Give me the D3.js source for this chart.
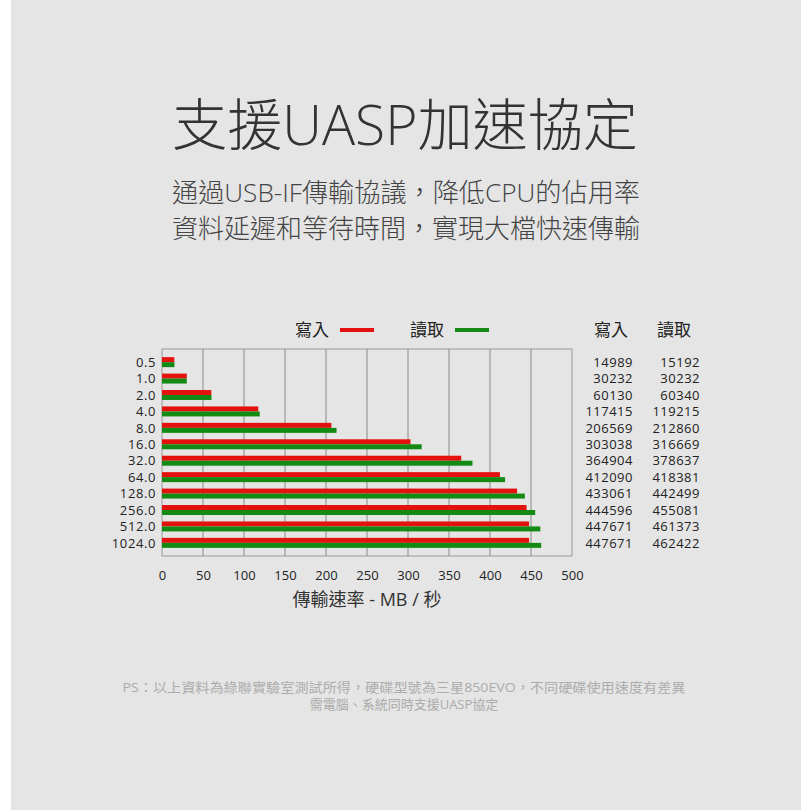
<!DOCTYPE html>
<html><head><meta charset="utf-8">
<script src="https://cdn.jsdelivr.net/npm/d3@7"></script>
<style>
html,body{margin:0;padding:0;background:#fff;}
svg{display:block;}
</style></head>
<body>
<svg id="chart" width="812" height="812"></svg>
<script>
const categories = ["0.5","1.0","2.0","4.0","8.0","16.0","32.0","64.0","128.0","256.0","512.0","1024.0"];
const writeKB = [14989,30232,60130,117415,206569,303038,364904,412090,433061,444596,447671,447671];
const readKB  = [15192,30232,60340,119215,212860,316669,378637,418381,442499,455081,461373,462422];
const xTicks = [0,50,100,150,200,250,300,350,400,450,500];
const seriesNames = ["寫入","讀取"];
const title = "支援UASP加速協定";
const subtitle = ["通過USB-IF傳輸協議，降低CPU的佔用率","資料延遲和等待時間，實現大檔快速傳輸"];
const axisTitle = "傳輸速率 - MB / 秒";
const footnote = ["PS：以上資料為綠聯實驗室測試所得，硬碟型號為三星850EVO，不同硬碟使用速度有差異","需電腦、系統同時支援UASP協定"];

const font = "'Open Sans','Noto Sans CJK TC','Noto Sans',sans-serif";
const RED = "#e3120f", GREEN = "#138a13";
const svg = d3.select("#chart");
svg.append("rect").attr("x",11).attr("y",0).attr("width",790).attr("height",810).attr("fill","#e5e5e5");

svg.append("text").attr("x",405).attr("y",145).attr("text-anchor","middle")
  .attr("font-family",font).attr("font-weight",300).attr("font-size",56).attr("fill","#333")
  .attr("textLength",466).attr("lengthAdjust","spacingAndGlyphs").text(title);
subtitle.forEach((s,i)=>svg.append("text").attr("x",406).attr("y",202+i*36).attr("text-anchor","middle")
  .attr("font-family",font).attr("font-weight",300).attr("font-size",26).attr("fill","#444")
  .attr("textLength",468).attr("lengthAdjust","spacingAndGlyphs").text(s));

const x = d3.scaleLinear().domain([0,500]).range([162,572]);
const y = d3.scaleBand().domain(categories).range([349,556]).paddingOuter(0.3).paddingInner(0);
const barH = 5;

const g = svg.append("g");
g.append("rect").attr("x",x(0)).attr("y",349).attr("width",x(500)-x(0)).attr("height",556-349)
  .attr("fill","none").attr("stroke","#9a9a9a").attr("stroke-width",1);
g.selectAll(".grid").data(xTicks.slice(1,-1)).join("line")
  .attr("x1",d=>x(d)).attr("x2",d=>x(d)).attr("y1",349).attr("y2",556)
  .attr("stroke","#8a8a8a").attr("stroke-width",1);

const rows = categories.map((c,i)=>({c,w:writeKB[i]/1000,r:readKB[i]/1000,wk:writeKB[i],rk:readKB[i]}));
g.selectAll(".wbar").data(rows).join("rect")
  .attr("x",x(0)).attr("y",d=>y(d.c)+y.bandwidth()/2-barH)
  .attr("width",d=>x(d.w)-x(0)).attr("height",barH).attr("fill",RED);
g.selectAll(".rbar").data(rows).join("rect")
  .attr("x",x(0)).attr("y",d=>y(d.c)+y.bandwidth()/2)
  .attr("width",d=>x(d.r)-x(0)).attr("height",barH).attr("fill",GREEN);

g.selectAll(".cat").data(rows).join("text")
  .attr("x",156).attr("y",d=>y(d.c)+y.bandwidth()/2).attr("dy","0.36em")
  .attr("text-anchor","end").attr("font-family",font).attr("font-size",13).attr("letter-spacing",0.6)
  .attr("fill","#222").text(d=>d.c);

const xAxis = d3.axisBottom(x).tickValues(xTicks).tickSize(0).tickPadding(12);
const ax = svg.append("g").attr("transform","translate(0,563)").call(xAxis);
ax.select(".domain").remove();
ax.selectAll("text").attr("font-family",font).attr("font-size",13).attr("fill","#222").attr("dy","0.36em").attr("y",12);
svg.append("text").attr("x",367).attr("y",606).attr("text-anchor","middle")
  .attr("font-family",font).attr("font-size",18).attr("fill","#333").text(axisTitle);

const legend = [{name:seriesNames[0],color:RED,tx:329,lx:340},{name:seriesNames[1],color:GREEN,tx:444,lx:455}];
legend.forEach(l=>{
  svg.append("text").attr("x",l.tx).attr("y",330).attr("dy","0.36em").attr("text-anchor","end")
    .attr("font-family",font).attr("font-size",17).attr("fill","#222").text(l.name);
  svg.append("rect").attr("x",l.lx).attr("y",328).attr("width",34).attr("height",4).attr("fill",l.color);
});

svg.append("text").attr("x",611).attr("y",330).attr("dy","0.36em").attr("text-anchor","middle")
  .attr("font-family",font).attr("font-size",17).attr("fill","#222").text(seriesNames[0]);
svg.append("text").attr("x",674).attr("y",330).attr("dy","0.36em").attr("text-anchor","middle")
  .attr("font-family",font).attr("font-size",17).attr("fill","#222").text(seriesNames[1]);
svg.selectAll(".tw").data(rows).join("text")
  .attr("x",633).attr("y",d=>y(d.c)+y.bandwidth()/2).attr("dy","0.36em").attr("text-anchor","end")
  .attr("font-family",font).attr("font-size",13).attr("letter-spacing",0.5).attr("fill","#222").text(d=>d.wk);
svg.selectAll(".tr").data(rows).join("text")
  .attr("x",700).attr("y",d=>y(d.c)+y.bandwidth()/2).attr("dy","0.36em").attr("text-anchor","end")
  .attr("font-family",font).attr("font-size",13).attr("letter-spacing",0.5).attr("fill","#222").text(d=>d.rk);

footnote.forEach((s,i)=>{
  const t = svg.append("text").attr("x",404).attr("y",692+i*17).attr("text-anchor","middle")
    .attr("font-family",font).attr("font-size",13).attr("fill","#acacac").text(s);
  if(i===0) t.attr("textLength",563).attr("lengthAdjust","spacingAndGlyphs");
});
</script>
</body></html>
